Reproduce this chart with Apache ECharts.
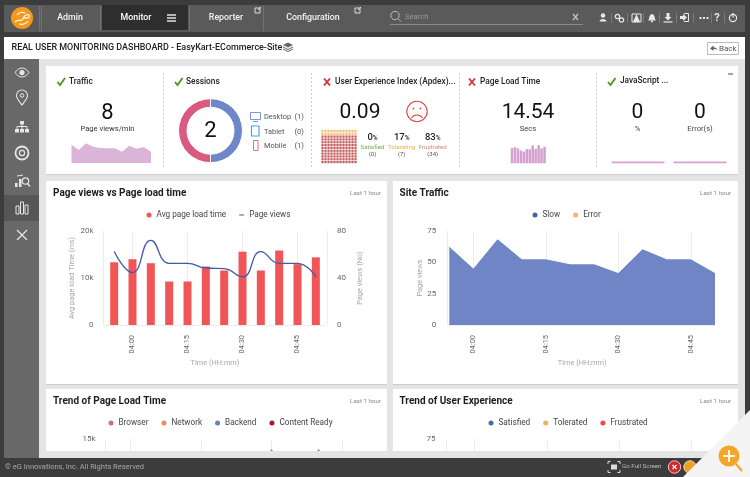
<!DOCTYPE html>
<html><head><meta charset="utf-8">
<style>html,body{margin:0;padding:0;background:#3c3c3c}#c{width:750px;height:477px}</style>
<script src="https://cdn.jsdelivr.net/npm/echarts@6/dist/echarts.min.js"></script>
</head><body><div id="c"></div>
<script>
// ---------- data ----------
const timeLabels = ['03:55','04:00','04:05','04:10','04:15','04:20','04:25','04:30','04:35','04:40','04:45','04:50'];
const tickLabels = ['04:00','04:15','04:30','04:45'];
const avgPageLoad = [13350,14000,13150,9260,9260,12450,11600,15600,11600,15850,12950,14400];
const pageViews = [62.5,44.7,72,52.5,52.5,48.5,48,41,62.5,52.5,52.5,41];
const siteSlow = [62,44.5,68,52,52,48,48,41,60,52,52,41];
const siteError = [0,0,0,0,0,0,0,0,0,0,0,0];
const sparkTraffic = [56,40,60,50,46,45,45,35,53,44,49,35];
const sparkLoad = [13.3,14,13.1,11.2,10.3,12.4,12.2,15.6,12.6,15.8,13,14.4];
const sparkJsPct = [0,0,0,0,0,0,0,0,0,0,0,0];
const sparkJsErr = [0,0,0,0,0,0,0,0,0,0,0,0];
const sessionNames = ['Desktop','Tablet','Mobile'];
const sessionCounts = [1,0,1];
const waffleColumns = ['a','b','c','d','e','f','g','h','i','j','k','l'];
const waffleRows = ['Tolerating','Tolerating','Frustrated','Frustrated','Frustrated','Frustrated','Frustrated','Frustrated','Frustrated','Frustrated','Frustrated','Frustrated'];
const trendBrowser = [1200,1000,1300,900,1100,1200,1000,1500,1100,1400,1200,1300];
const trendNetwork = [300,200,400,200,300,300,200,400,300,300,300,400];
const trendBackend = [8000,8500,8200,6000,6000,7800,7200,13300,7400,13300,8000,9000];
const trendContent = [11000,11500,10500,8000,8200,10000,9500,10800,9600,10800,10500,11000];
const trendSatisfied = [0,0,0,0,0,0,0,0,0,0,0,0];
const trendTolerated = [10,8,12,9,9,8,7,8,10,9,9,7];
const trendFrustrated = [45,34,50,40,40,38,38,32,46,40,40,32];
const yTicksLoad = {max:20000,step:10000};

// ---------- chrome helpers ----------
const FF = 'Roboto, sans-serif';
const T=(text,x,y,size,fill,align='left',weight=400,extra={})=>({type:'text',silent:true,z:extra.z||1,style:{text,x,y,fill,font:`${weight} ${size}px ${FF}`,textAlign:align,textVerticalAlign:'middle'},rotation:extra.rotation||0});
const R=(x,y,w,h,fill,z=-1,extra={})=>({type:'rect',silent:true,z,shape:{x,y,width:w,height:h,r:extra.r||0},style:{fill,stroke:extra.stroke||null,lineWidth:extra.lw||1}});
const L=(x1,y1,x2,y2,stroke,lw=1,dash=null,z=1)=>({type:'line',silent:true,z,shape:{x1,y1,x2,y2},style:{stroke,lineWidth:lw,lineDash:dash}});
const C=(cx,cy,r,fill,stroke=null,lw=1,z=1)=>({type:'circle',silent:true,z,shape:{cx,cy,r},style:{fill,stroke,lineWidth:lw}});
let pathCount=0;
const P=(d,fill,stroke=null,lw=1,z=1)=>{const name='chromePath'+(pathCount++);echarts.graphic.registerShape(name,echarts.graphic.extendPath(d));return {type:name,silent:true,z,style:{fill,stroke,lineWidth:lw}};};

const g=[];
// frame + top bar
g.push(R(0,0,750,477,'#3c3c3c',-3));
g.push(R(4,5,741,27,'#5a5a5a',-2));
g.push(R(102,5,86,25,'#2e2e2e',-1));
[39,41,100,189,263].forEach(x=>g.push(L(x+.5,6,x+.5,31,'#737373')));
g.push(C(22,18,11,'#f39a1e'));
g.push(P('M15 22c3-3 5-1 7-2s1-4 4-5 4 0 3 2-4 1-6 0M17 15c2-3 6-3 8-2M19 24c3 1 7 0 9-3','none','#fff',1.2));
g.push(T('Admin',70,18,8.8,'#f2f2f2','center',500));
g.push(T('Monitor',136,18,8.8,'#ffffff','center',500));
[15,18,21].forEach(y=>g.push(L(167,y,176,y,'#fff',1.3)));
g.push(T('Reporter',226,18,8.8,'#f2f2f2','center',500));
g.push(T('Configuration',313,18,8.8,'#f2f2f2','center',500));
[258,358].forEach(x=>{g.push(R(x-3,8,5,5,'none',1,{stroke:'#ddd'}));g.push(L(x,10,x+3,7,'#ddd'));});
// search
g.push(C(395,15.5,4.2,'none','#bbb',1));
g.push(L(398,18.5,401,21.5,'#bbb',1));
g.push(T('Search',405,17,7.6,'#9a9a9a'));
g.push(L(573,14,578,20,'#c4c4c4',1.2));g.push(L(578,14,573,20,'#c4c4c4',1.2));
g.push(L(390,24.5,583,24.5,'#8a8a8a',1));
// right icons
g.push(C(603,15.5,2.2,'#e8e8e8'));g.push(P('M599.5 21.5c0-3.5 7-3.5 7 0z','#e8e8e8'));
g.push(C(617.5,16.5,2.2,'none','#e8e8e8',1.2));g.push(C(621.5,20,2.2,'none','#e8e8e8',1.2));
g.push(R(632,14,9,8,'none',1,{stroke:'#e8e8e8'}));g.push(P('M633 22l3.5-8 3.5 8z','#e8e8e8'));
g.push(P('M648 20.5c1.5-1 .8-6 4-6.5 3.2.5 2.5 5.5 4 6.5z','#e8e8e8'));g.push(C(652,21.5,1,'#e8e8e8'));
g.push(P('M666.5 13h3v4h2l-3.5 3.5-3.5-3.5h2z','#e8e8e8'));g.push(L(663.5,22,672.5,22,'#e8e8e8',1.2));
g.push(P('M680 16h3v-2l4 3.5-4 3.5v-2h-3z','#e8e8e8'));g.push(P('M684 13.5h4.5v8H684','none','#e8e8e8',1));
[699.5,703,706.5].forEach(x=>g.push(R(x,17,2,2,'#e8e8e8',1)));
g.push(T('?',717,18,11,'#e8e8e8','center',700));
g.push(C(733,18,3.6,'none','#e8e8e8',1.2));g.push(L(733,13,733,17.5,'#e8e8e8',1.2));
[612,628,644,660,677,694,712,725].forEach(x=>g.push(L(x-.5,13,x-.5,23,'#7a7a7a')));
// title bar
g.push(R(4,37,741,22,'#ffffff',-2));
g.push(T('REAL USER MONITORING DASHBOARD - EasyKart-ECommerce-Site',11.5,48,8.95,'#222','left',500));
g.push(P('M283 45l5-2.5 5 2.5-5 2.5z','#666'));g.push(P('M283 47l5 2.5 5-2.5M283 49l5 2.5 5-2.5','none','#666',1));
g.push(R(707.5,42.5,31,12,'#fff',1,{stroke:'#bbb'}));
g.push(P('M710 48.5l3.5-3v1.8c2 0 3.5 1 4 3-1-1-2.2-1.2-4-1.2v2z','#666'));
g.push(T('Back',719,48.7,8,'#555'));
// content + sidebar
g.push(R(39,59,706,399,'#e4e4e4',-2));
g.push(R(4,59,35,399,'#686868',-2));
g.push(R(4,195,35,26,'#565656',-1));
const ic='#e6e6e6';
g.push(P('M15 72.5c4-6 10-6 14 0-4 6-10 6-14 0z','none',ic,1));g.push(C(22,72.5,2.6,ic));
g.push(P('M22 105c-3-4-5.5-6.5-5.5-9.5a5.5 5.5 0 0 1 11 0c0 3-2.5 5.5-5.5 9.5z','none',ic,1.1));g.push(C(22,95.5,1.8,'none',ic,1));
g.push(R(20,121,4,3.5,ic,1));[15,20,25].forEach(x=>g.push(R(x,129,4,3.5,ic,1)));g.push(P('M17 129v-2.5h10v2.5M22 124.5v4.5','none',ic,1));
g.push(C(22,153,6.5,'none',ic,1.8));g.push(C(22,153,2.6,'none',ic,1.2));
g.push(R(15,183,2.5,4,ic,1));g.push(R(19,179,2.5,8,ic,1));g.push(C(25.5,181,3.2,'none',ic,1.2));g.push(L(27.5,183.5,30,186.5,ic,1.3));g.push(L(17,176,23,175,ic,1));
g.push(R(16,206,3,8,'none',1,{stroke:ic}));g.push(R(20.5,202,3,12,'none',1,{stroke:ic}));g.push(R(25,205,3,9,'none',1,{stroke:ic}));
g.push(L(17,230,27,240,ic,1.3));g.push(L(27,230,17,240,ic,1.3));
// cards
const card=(x,y,w,h)=>{g.push(R(x,y+1,w,h,'#cdcdcd',-1));g.push(R(x,y,w,h,'#ffffff',-1));};
card(46,66,692,108);card(46,181,341,203);card(393,181,345,203);card(46,389,341,62);card(393,389,345,62);
[163,311,459,596].forEach(x=>g.push(L(x+.5,73,x+.5,167,'#cfcfcf',1,[2,2])));
g.push(L(728,74,733,74,'#666',1.2));
// KPI headers
const check=(x,y)=>g.push(P(`M${x} ${y}l2.5 3 5-7`,'none','#3c9a1c',1.8));
const cross=(x,y)=>{g.push(L(x,y-3.5,x+6,y+3.5,'#d2322d',1.8));g.push(L(x+6,y-3.5,x,y+3.5,'#d2322d',1.8));};
const HS=8.3;
check(57.5,82);g.push(T('Traffic',69,82,HS,'#222','left',500));
check(175,82);g.push(T('Sessions',186,82,HS,'#222','left',500));
cross(324,82);g.push(T('User Experience Index (Apdex)...',335,82,HS,'#222','left',500));
cross(469,82);g.push(T('Page Load Time',480,82,HS,'#222','left',500));
check(608,82);g.push(T('JavaScript ...',620,81,HS,'#222','left',500));
// KPI figures
g.push(T('8',107.5,113,22,'#111','center'));
g.push(T('Page views/min',107.5,129.5,7.6,'#333','center'));
g.push(T('2',210.5,131,22,'#111','center'));
g.push(T('0.09',360,112.5,21,'#111','center'));
g.push(T('14.54',528,113,21,'#111','center'));
g.push(T('Secs',528,129.5,7.6,'#444','center'));
g.push(T('0',637.5,113,21,'#111','center'));g.push(T('%',637.5,129.5,7.6,'#444','center'));
g.push(T('0',700,113,21,'#111','center'));g.push(T('Error(s)',700,129.5,7.6,'#444','center'));
// sad face
g.push(C(417,111.5,10.2,'none','#dc4a45',1.1));
g.push(C(413.5,108.5,.9,'#dc4a45'));g.push(C(420.5,108.5,.9,'#dc4a45'));
g.push(P('M411.5 118c2.5-4 8.5-4 11 0','none','#dc4a45',1.1));
// Apdex breakdown
[['0','Satisfied','(0)',372.5,'#74ad55'],['17','Tolerating','(7)',401.7,'#efb04e'],['83','Frustrated','(34)',432.7,'#df8378']].forEach(([p,n,c,x,col])=>{
  g.push({type:'text',silent:true,z:1,style:{text:`{a|${p}}{b|%}`,x,y:138,textAlign:'center',textVerticalAlign:'middle',rich:{a:{font:`500 9.5px ${FF}`,fill:'#222'},b:{font:`500 6.5px ${FF}`,fill:'#222'}}}});
  g.push(T(n,x,147,6.2,col,'center'));
  g.push(T(c,x,154,6,'#555','center'));
});
// session legend
const sy=[117,132,146.5], scol=['#7f97d8','#4aa5df','#e0708f'];
g.push(R(250.5,112.5,10,7,'none',1,{stroke:scol[0]}));g.push(L(253,121.5,258,121.5,scol[0]));
g.push(R(251.5,126,7.5,10,'none',1,{stroke:scol[1],lw:1.2}));
g.push(R(253.5,140.5,4.5,10,'none',1,{stroke:scol[2]}));
sessionNames.forEach((n,i)=>{g.push(T(n,264,sy[i],7.4,'#555'));g.push(T('('+sessionCounts[i]+')',304,sy[i],7.6,'#555','right'));});
// chart headings
[['Page views vs Page load time',53,193,381],['Site Traffic',399.5,193,731],['Trend of Page Load Time',53,401,381],['Trend of User Experience',399.5,401,731]].forEach(([t,x,y,rx])=>{
  g.push(T(t,x,y,10,'#1c1c1c','left',700));
  g.push(T('Last 1 hour',rx,y,6.2,'#888','right'));
});
// things that sit over the clipped bottom charts
g.push(R(39,451,706,8,'#e4e4e4',100));
g.push(R(387,389,6,70,'#e4e4e4',100));
g.push(R(0,458,750,19,'#3c3c3c',100));
g.push(R(4,451,35,7,'#686868',101));
g.push(R(745,389,5,70,'#3c3c3c',101));
g.push({...T('© eG Innovations, Inc. All Rights Reserved',5,467,7.5,'#a8a8a8'),z:102});
g.push(P('M608 464v-2.5h2.5M617.5 461.5h2.5v2.5M620 470v2.5h-2.5M610.5 472.5h-2.5v-2.5','none','#ddd',1,102));
g.push(R(611,464.5,6,5,'#ddd',102));
g.push({...T('Go Full Screen',622,466.5,6.2,'#bbb'),z:102});
g.push(C(674.5,467,6.2,'#d8252b','#f0c8c8',1,102));
g.push(L(672.5,465,676.5,469,'#fff',1.2,null,103));g.push(L(676.5,465,672.5,469,'#fff',1.2,null,103));
g.push(C(690,467,6.2,'#f0a020','#f5dcae',1,102));
g.push(P('M750 410L683 477H750z','#f4f4f4',null,1,104));
g.push(C(729,456,10.5,'#f4a629',null,1,105));
g.push(L(736,464,742,471,'#f4a629',2.2,null,105));
g.push(L(723,456,735,456,'#fff',1.8,null,106));g.push(L(729,450,729,462,'#fff',1.8,null,106));

// ---------- chart helpers ----------
const axLine={lineStyle:{color:'#ececec',width:1}};
const lab={fontFamily:FF,fontSize:8,color:'#666'};
const nameS={fontFamily:FF,fontSize:7.4,color:'#a8a8a8'};
const legendBase=(left,top,names)=>({left,top,data:names,itemWidth:5,itemHeight:5,itemGap:13,padding:0,selectedMode:false,textStyle:{fontFamily:FF,fontSize:8.2,color:'#444'}});
const hidden=(gi,extra)=>({gridIndex:gi,show:false,...extra});
const tickFn=(i,v)=>tickLabels.includes(v);
const kformat=v=>v?v/1000+'k':'0';

const grids=[
 {left:105,top:231,width:220,height:94},        //0 chart1
 {left:449.3,top:231,width:265.7,height:94},    //1 chart2
 {left:107,top:439,width:258.5,height:94},      //2 chart3
 {left:450.5,top:439,width:265,height:94},      //3 chart4
 {left:71.5,top:143.3,width:79.5,height:20},    //4 spark traffic
 {left:510.5,top:145,width:35.5,height:18.3},   //5 spark load
 {left:611.5,top:140,width:53,height:22.5},     //6 js %
 {left:673.5,top:140,width:53,height:22.5},     //7 js err
 {left:321,top:129.5,width:36,height:34},       //8 waffle
].map(gr=>({...gr,outerBoundsMode:'none'}));
const xCat=(gi,gap,name,ext={})=>({type:'category',gridIndex:gi,data:timeLabels,boundaryGap:gap,
  axisLine:axLine,axisTick:{show:false},
  axisLabel:{...lab,fontSize:7.4,rotate:90,interval:tickFn,margin:10},
  splitLine:{show:!gap,interval:tickFn,lineStyle:{color:'#ececec'}},
  name,nameLocation:'middle',nameGap:35,nameTextStyle:nameS,...ext});
const yVal=(gi,max,interval,name,gap,ext={})=>({type:'value',gridIndex:gi,min:0,max,interval,
  axisLine:{show:true,...axLine},axisTick:{show:false},splitLine:{show:false},
  axisLabel:{...lab,margin:9.5},offset:2,
  name,nameLocation:'middle',nameGap:gap,nameTextStyle:nameS,...ext});

const xAxes=[
 xCat(0,true,'Time (HH:mm)'),
 xCat(1,false,'Time (HH:mm)'),
 xCat(2,false,''),
 xCat(3,false,''),
 hidden(4,{type:'category',data:timeLabels,boundaryGap:false}),
 hidden(5,{type:'category',data:timeLabels}),
 hidden(6,{type:'category',data:timeLabels,boundaryGap:false}),
 hidden(7,{type:'category',data:timeLabels,boundaryGap:false}),
 hidden(8,{type:'category',data:waffleColumns}),
];
const yAxes=[
 yVal(0,yTicksLoad.max,yTicksLoad.step,'Avg page load Time (ms)',27,{axisLabel:{...lab,margin:9.5,formatter:kformat}}),
 yVal(0,80,40,'Page views (No)',30,{position:'right',axisLabel:{...lab,margin:10}}),
 yVal(1,75,25,'Page views',22,{axisLabel:{...lab,margin:11}}),
 yVal(2,15000,5000,'',20,{axisLabel:{...lab,margin:9.5,formatter:kformat}}),
 yVal(3,75,25,'',20,{offset:4,axisLabel:{...lab,margin:11}}),
 hidden(4,{type:'value',min:0,max:60}),
 hidden(5,{type:'value',min:0,max:16}),
 hidden(6,{type:'value',min:0,max:1}),
 hidden(7,{type:'value',min:0,max:1}),
 hidden(8,{type:'category',data:waffleRows.map((r,i)=>r+i),inverse:true}),
];
const lineNone={width:0};
const dashIcon='path://M0 0h0v6h0zM0 2.5h6v1H0z';
const waffleData=[];
waffleRows.forEach((r,ri)=>waffleColumns.forEach((c,ci)=>waffleData.push({value:[c,r+ri],itemStyle:{color:r==='Tolerating'?'#efb24c':'#b5302f'}})));

const series=[
 {name:'Avg page load time',type:'bar',xAxisIndex:0,yAxisIndex:0,data:avgPageLoad,barWidth:8,itemStyle:{color:'#f25558'},z:3,
  markLine:{silent:true,symbol:'none',z:1,label:{show:false},lineStyle:{color:'#ececec',width:1,type:'solid'},data:tickLabels.map(t=>({xAxis:t}))}},
 {name:'Page views',type:'line',xAxisIndex:0,yAxisIndex:1,data:pageViews,smooth:.5,symbol:'none',lineStyle:{color:'#3f5aa6',width:1.3},itemStyle:{color:'#3f5aa6'},z:4},
 {name:'Slow',type:'line',xAxisIndex:1,yAxisIndex:2,data:siteSlow,symbol:'none',lineStyle:{color:'#6f86c6',width:1},itemStyle:{color:'#4a60ad'},areaStyle:{color:'#6f85c5',opacity:1}},
 {name:'Error',type:'line',xAxisIndex:1,yAxisIndex:2,data:siteError,symbol:'none',lineStyle:lineNone,itemStyle:{color:'#f3b56b'}},
 {name:'Browser',type:'line',xAxisIndex:2,yAxisIndex:3,data:trendBrowser,symbol:'none',lineStyle:{color:'#c96aa0',width:1},itemStyle:{color:'#c96aa0'}},
 {name:'Network',type:'line',xAxisIndex:2,yAxisIndex:3,data:trendNetwork,symbol:'none',lineStyle:{color:'#ee8a5a',width:1},itemStyle:{color:'#ee8a5a'}},
 {name:'Backend',type:'line',xAxisIndex:2,yAxisIndex:3,data:trendBackend,symbol:'none',lineStyle:{color:'#5f85b0',width:1},itemStyle:{color:'#5f85b0'},areaStyle:{color:'#5f85b0',opacity:1}},
 {name:'Content Ready',type:'line',xAxisIndex:2,yAxisIndex:3,data:trendContent,symbol:'none',lineStyle:{color:'#b3131b',width:0},itemStyle:{color:'#b3131b'}},
 {name:'Satisfied',type:'line',stack:'ux',xAxisIndex:3,yAxisIndex:4,data:trendSatisfied,symbol:'none',lineStyle:lineNone,itemStyle:{color:'#4a68b8'},areaStyle:{color:'#4a68b8'}},
 {name:'Tolerated',type:'line',stack:'ux',xAxisIndex:3,yAxisIndex:4,data:trendTolerated,symbol:'none',lineStyle:lineNone,itemStyle:{color:'#f0ae5a'},areaStyle:{color:'#f0ae5a'}},
 {name:'Frustrated',type:'line',stack:'ux',xAxisIndex:3,yAxisIndex:4,data:trendFrustrated,symbol:'none',lineStyle:lineNone,itemStyle:{color:'#e8474f'},areaStyle:{color:'#e8474f'}},
 {type:'line',xAxisIndex:4,yAxisIndex:5,data:sparkTraffic,symbol:'none',lineStyle:lineNone,areaStyle:{color:'#dbb5d9',opacity:1}},
 {type:'bar',xAxisIndex:5,yAxisIndex:6,data:sparkLoad,barWidth:2.5,itemStyle:{color:'#d3a0cf'}},
 {type:'line',xAxisIndex:6,yAxisIndex:7,data:sparkJsPct,symbol:'none',lineStyle:{color:'#d5a2d1',width:2}},
 {type:'line',xAxisIndex:7,yAxisIndex:8,data:sparkJsErr,symbol:'none',lineStyle:{color:'#d5a2d1',width:2}},
 {type:'scatter',xAxisIndex:8,yAxisIndex:9,data:waffleData,symbol:'rect',symbolSize:2.2},
 {type:'pie',radius:[23.5,32],center:[210.5,130.7],startAngle:90,silent:true,label:{show:false},labelLine:{show:false},
  itemStyle:{borderColor:'#fff',borderWidth:1},
  data:[{name:sessionNames[0],value:sessionCounts[0],itemStyle:{color:'#6f86c8'}},{name:sessionNames[2],value:sessionCounts[2],itemStyle:{color:'#d95b80'}}]},
];

const option={
 animation:false,backgroundColor:'transparent',
 graphic:{elements:g},
 grid:grids,xAxis:xAxes,yAxis:yAxes,series,
 legend:[
  legendBase(146.5,211,['Avg page load time',{name:'Page views',icon:dashIcon}]),
  legendBase(532.5,211,['Slow','Error']),
  legendBase(108.5,419,['Browser','Network','Backend','Content Ready']),
  legendBase(488.5,419,['Satisfied','Tolerated','Frustrated']),
 ].map(l=>({...l,icon:'circle'})),
};
const chart=echarts.init(document.getElementById('c'),null,{renderer:'canvas',width:750,height:477});
chart.setOption(option);
</script></body></html>
